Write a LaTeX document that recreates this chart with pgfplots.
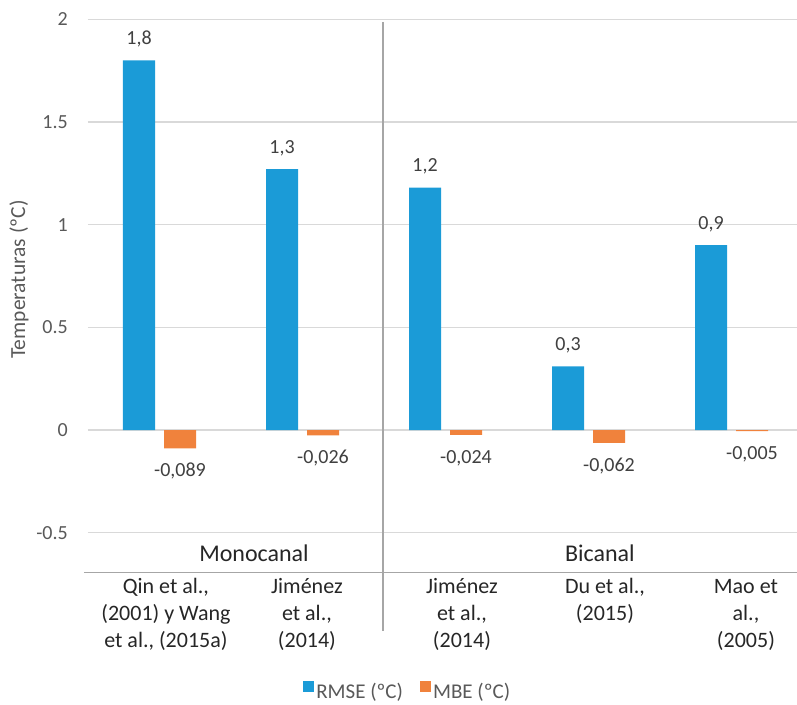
\documentclass[border=0pt]{standalone}
\usepackage{fontspec}
\setmainfont{Carlito}
\usepackage{pgfplots}
\usepackage{pgfplotstable}
\pgfplotsset{compat=1.18}
\definecolor{rmse}{HTML}{1B9BD7}
\definecolor{mbe}{HTML}{F0823C}
\definecolor{gridc}{HTML}{D9D9D9}
\definecolor{sepc}{HTML}{A6A6A6}
\definecolor{txt}{HTML}{595959}
\definecolor{dtxt}{HTML}{404040}
\definecolor{ctxt}{HTML}{262626}

\pgfplotstableread{
x y lab
0 1.80 1,8
1 1.27 1,3
2 1.18 1,2
3 0.31 0,3
4 0.90 0,9
}\rmsedata
\pgfplotstableread{
x y lab
0 -0.089 -0,089
1 -0.026 -0,026
2 -0.024 -0,024
3 -0.062 -0,062
4 -0.005 -0,005
}\mbedata

\pgfplotsset{sqlegend/.style={legend image code/.code={\fill[##1] (0pt,-0.5pt) rectangle (11pt,10.5pt);}}}

\begin{document}
\begin{tikzpicture}
\path[use as bounding box] (-88pt,-171.3pt) rectangle (709pt,532.7pt);
\begin{axis}[
  at={(0pt,0pt)}, anchor=south west,
  scale only axis, width=709pt, height=513.4pt,
  xmin=-0.5, xmax=4.458, ymin=-0.5, ymax=2,
  ytick={-0.5,0,0.5,1,1.5,2},
  xtick=\empty,
  axis line style={draw=none},
  major tick length=0pt,
  ymajorgrids, grid style={gridc, line width=1.2pt},
  ybar=9pt, bar width=32pt,
  clip=false,
  /pgf/number format/assume math mode=true,
  yticklabel style={font=\fontsize{20pt}{24pt}\selectfont, text=txt, inner sep=0pt, xshift=-20pt},
  legend style={at={(axis description cs:0.451,-0.309)}, anchor=center, draw=none, fill=none,
    font=\fontsize{21pt}{24pt}\selectfont, text=txt, legend columns=2, inner sep=0pt,
    nodes={inner sep=2.5pt},
    /tikz/every even column/.append style={column sep=14pt}},
]
\addplot[fill=rmse, draw=none, sqlegend, nodes near coords, point meta=explicit symbolic,
  every node near coord/.append style={anchor=center, yshift=21pt, font=\fontsize{20pt}{24pt}\selectfont, text=dtxt}]
  table[x=x, y=y, meta=lab] {\rmsedata};
\addlegendentry{RMSE (ºC)}
\addplot[fill=mbe, draw=none, sqlegend, nodes near coords, point meta=explicit symbolic,
  every node near coord/.append style={anchor=center, yshift=-23pt, font=\fontsize{20pt}{24pt}\selectfont, text=dtxt}]
  table[x=x, y=y, meta=lab] {\mbedata};
\addlegendentry{MBE (ºC)}

% separators
\draw[sepc, line width=1.2pt] (axis cs:1.563,1.988) -- ([yshift=-98.3pt]axis cs:1.563,-0.5);
\draw[sepc, line width=1.2pt] ([xshift=-4pt,yshift=-40pt]axis cs:-0.5,-0.5) -- ([yshift=-40pt]axis cs:4.458,-0.5);

% y label
\node[rotate=90, font=\fontsize{21.5pt}{24pt}\selectfont, text=txt] at ([xshift=-69pt]axis cs:-0.5,0.733) {Temperaturas (ºC)};

% group labels
\node[anchor=base, font=\fontsize{24pt}{27pt}\selectfont, text=ctxt] at ([yshift=-28.3pt]axis cs:0.661,-0.5) {Monocanal};
\node[anchor=base, font=\fontsize{24pt}{27pt}\selectfont, text=ctxt] at ([yshift=-28.3pt]axis cs:3.08,-0.5) {Bicanal};

% category labels
\begin{scope}[every node/.style={anchor=base, font=\fontsize{22pt}{27pt}\selectfont, text=ctxt}]
\node at ([yshift=-60.6pt]axis cs:0.045,-0.5) {Qin et al.,};
\node at ([yshift=-87.6pt]axis cs:0.045,-0.5) {(2001) y Wang};
\node at ([yshift=-114.6pt]axis cs:0.045,-0.5) {et al., (2015a)};
\node at ([yshift=-60.6pt]axis cs:1.031,-0.5) {Jiménez};
\node at ([yshift=-87.6pt]axis cs:1.031,-0.5) {et al.,};
\node at ([yshift=-114.6pt]axis cs:1.031,-0.5) {(2014)};
\node at ([yshift=-60.6pt]axis cs:2.115,-0.5) {Jiménez};
\node at ([yshift=-87.6pt]axis cs:2.115,-0.5) {et al.,};
\node at ([yshift=-114.6pt]axis cs:2.115,-0.5) {(2014)};
\node at ([yshift=-60.6pt]axis cs:3.115,-0.5) {Du et al.,};
\node at ([yshift=-87.6pt]axis cs:3.115,-0.5) {(2015)};
\node at ([yshift=-60.6pt]axis cs:4.101,-0.5) {Mao et};
\node at ([yshift=-87.6pt]axis cs:4.101,-0.5) {al.,};
\node at ([yshift=-114.6pt]axis cs:4.101,-0.5) {(2005)};
\end{scope}
\end{axis}
\end{tikzpicture}
\end{document}
